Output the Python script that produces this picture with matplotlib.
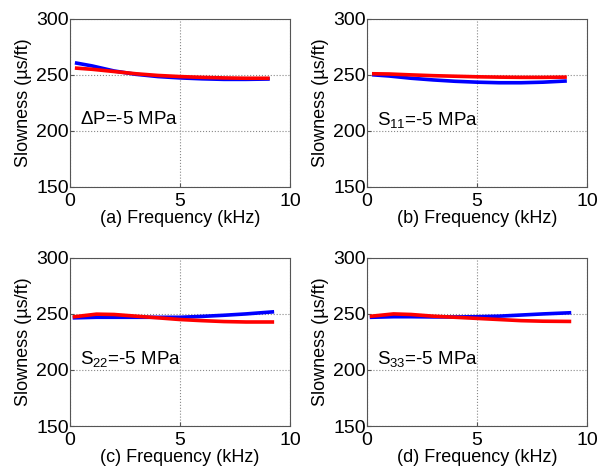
import numpy as np
import matplotlib.pyplot as plt

plt.rcParams.update({
    'font.family': ['Liberation Sans', 'DejaVu Sans'],
    'mathtext.fontset': 'custom',
    'mathtext.rm': 'Liberation Sans',
    'mathtext.it': 'Liberation Sans:italic',
    'xtick.direction': 'in',
    'ytick.direction': 'in',
})

# frequency samples (kHz)
freq = [0.3, 1.0, 2.0, 3.0, 4.0, 5.0, 6.0, 7.0, 8.0, 9.0]
freq_cd = [0.2, 1.2, 2.0, 3.0, 4.0, 5.0, 6.0, 7.0, 8.0, 9.2]

# panel (a) dP = -5 MPa
a_blue = [260.5, 258.0, 253.5, 250.5, 248.5, 247.3, 246.5, 246.0, 246.0, 246.3]
a_red = [256.0, 255.0, 253.0, 251.0, 249.5, 248.5, 247.8, 247.3, 247.0, 247.0]
# panel (b) S11 = -5 MPa
b_blue = [250.0, 249.0, 247.0, 245.5, 244.3, 243.5, 243.0, 243.0, 243.5, 244.5]
b_red = [251.0, 250.8, 250.0, 249.3, 248.8, 248.3, 248.0, 247.8, 247.8, 248.0]
# panel (c) S22 = -5 MPa
c_blue = [246.5, 247.0, 247.0, 247.0, 247.0, 247.0, 247.8, 248.8, 250.0, 251.8]
c_red = [247.5, 249.8, 249.5, 248.0, 246.5, 245.0, 244.0, 243.2, 242.8, 242.8]
# panel (d) S33 = -5 MPa
d_blue = [247.0, 247.5, 247.5, 247.3, 247.3, 247.5, 248.0, 249.0, 250.0, 251.0]
d_red = [248.0, 250.0, 249.5, 248.0, 247.0, 246.0, 245.0, 244.0, 243.5, 243.3]

panels = [
    (freq, a_blue, a_red, '(a) Frequency (kHz)', r'$\Delta$P=-5 MPa'),
    (freq, b_blue, b_red, '(b) Frequency (kHz)', r'S$_{11}$=-5 MPa'),
    (freq_cd, c_blue, c_red, '(c) Frequency (kHz)', r'S$_{22}$=-5 MPa'),
    (freq_cd, d_blue, d_red, '(d) Frequency (kHz)', r'S$_{33}$=-5 MPa'),
]

fig = plt.figure(figsize=(5.99, 4.71), dpi=100)
positions = [
    [0.117, 0.603, 0.367, 0.357],
    [0.613, 0.603, 0.367, 0.357],
    [0.117, 0.0955, 0.367, 0.357],
    [0.613, 0.0955, 0.367, 0.357],
]

for pos, (x, yb, yr, xlabel, note) in zip(positions, panels):
    ax = fig.add_axes(pos)
    ax.plot(x, yb, color='#0000ff', lw=2.6)
    ax.plot(x, yr, color='#ff0000', lw=2.6)
    ax.set_xlim(0, 10)
    ax.set_ylim(150, 300)
    ax.set_xticks([0, 5, 10])
    ax.set_yticks([150, 200, 250, 300])
    ax.tick_params(labelsize=14, length=3, color='#555555')
    ax.tick_params(axis='y', pad=1)
    ax.tick_params(axis='x', pad=4)
    ax.set_xlabel(xlabel, fontsize=13, labelpad=0)
    ax.set_ylabel('Slowness (\u00b5s/ft)', fontsize=13, labelpad=3)
    ax.grid(True, ls=':', color='#888888', lw=0.8)
    for s in ax.spines.values():
        s.set_color('#555555')
    ax.text(0.45, 210, note, fontsize=13.5, va='center', ha='left')

fig.savefig('out.png', dpi=100, facecolor='white')
